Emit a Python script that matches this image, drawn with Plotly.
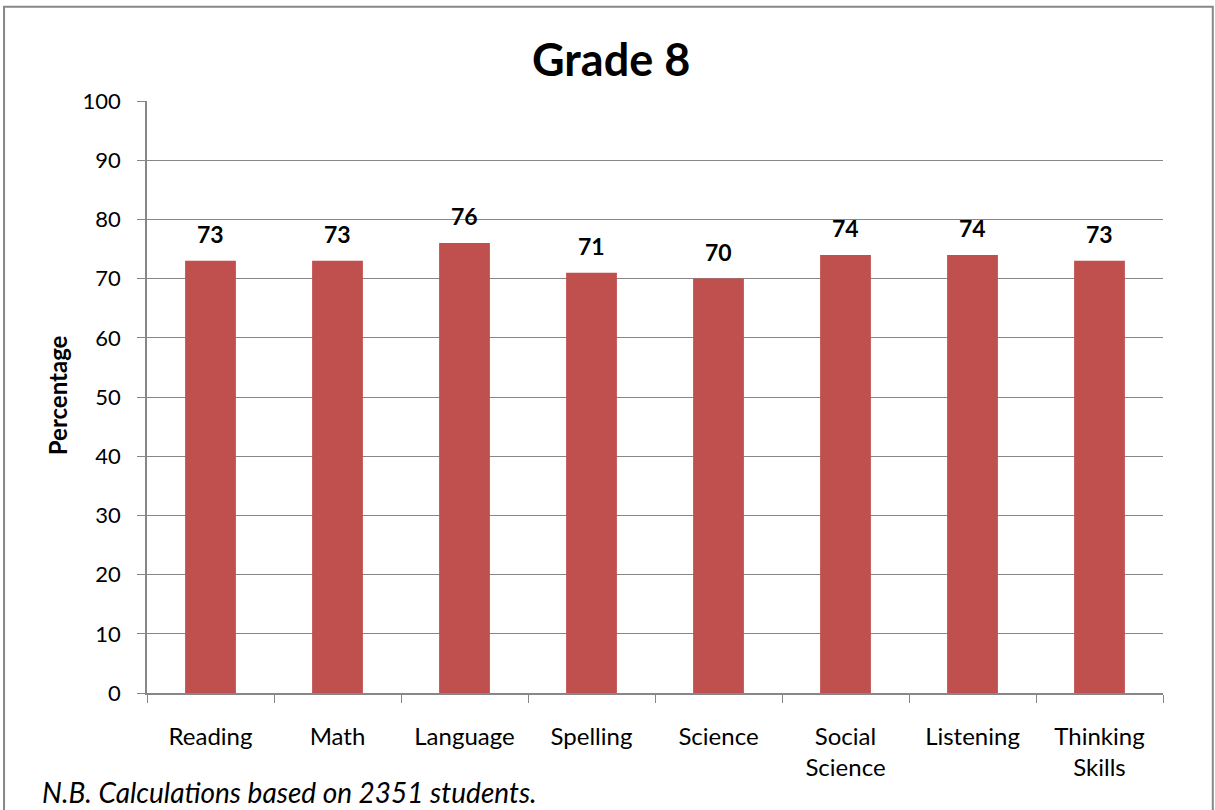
import plotly.graph_objects as go

categories = ["Reading", "Math", "Language", "Spelling", "Science", "Social<br>Science", "Listening", "Thinking<br>Skills"]
values = [73, 73, 76, 71, 70, 74, 74, 73]
y_ticks = [0, 10, 20, 30, 40, 50, 60, 70, 80, 90, 100]

FONT = "Lato"
GRID = "#878787"

fig = go.Figure()
fig.add_trace(go.Bar(
    x=categories, y=values,
    marker=dict(color="#C0504D", line=dict(width=0)),
    width=0.4,
))

for c, v in zip(categories, values):
    fig.add_annotation(x=c, y=v, text=f"<b>{v}</b>", showarrow=False,
                       yanchor="bottom", yshift=11,
                       font=dict(family=FONT, size=23, color="black"))

fig.update_layout(
    width=1215, height=810,
    margin=dict(l=147, r=52, t=101, b=117),
    paper_bgcolor="white", plot_bgcolor="white",
    showlegend=False,
    font=dict(family=FONT, size=21, color="black"),
    title=dict(text="<b>Grade 8</b>", x=0.503, xanchor="center", y=1 - 60 / 810, yanchor="middle",
               font=dict(family=FONT, size=45, color="black")),
    xaxis=dict(tickson="boundaries", ticks="outside", ticklen=8, tickcolor=GRID,
               showline=True, linecolor=GRID, linewidth=1.5, showgrid=False,
               ticklabelstandoff=21, tickfont=dict(family=FONT, size=24)),
    yaxis=dict(range=[0, 100], tickvals=y_ticks, ticks="outside", ticklen=8, tickcolor=GRID,
               showline=True, linecolor=GRID, linewidth=1.5, showgrid=True, gridcolor=GRID,
               gridwidth=1.3, zeroline=False, ticklabelstandoff=12,
               tickfont=dict(family=FONT, size=22)),
    shapes=[dict(type="rect", xref="paper", yref="paper", x0=-0.1407, x1=1.049, y0=-0.3, y1=1.159,
                 line=dict(color="#878787", width=2), fillcolor="rgba(0,0,0,0)", layer="below")],
)
fig.add_annotation(xref="paper", yref="paper", x=-0.0886, y=0.503, xanchor="center", yanchor="middle",
                   text="<b>Percentage</b>", textangle=-90, showarrow=False,
                   font=dict(family=FONT, size=24, color="black"))
fig.add_annotation(xref="paper", yref="paper", x=-0.1053, y=(693 - 792) / 592, xanchor="left",
                   yanchor="middle",
                   text="<i>N.B. Calculations based on 2351 students.</i>", showarrow=False,
                   font=dict(family=FONT, size=28, color="black"))

fig.write_html("out.html", config={"displayModeBar": False},
               post_script="document.body.style.margin='0';")
